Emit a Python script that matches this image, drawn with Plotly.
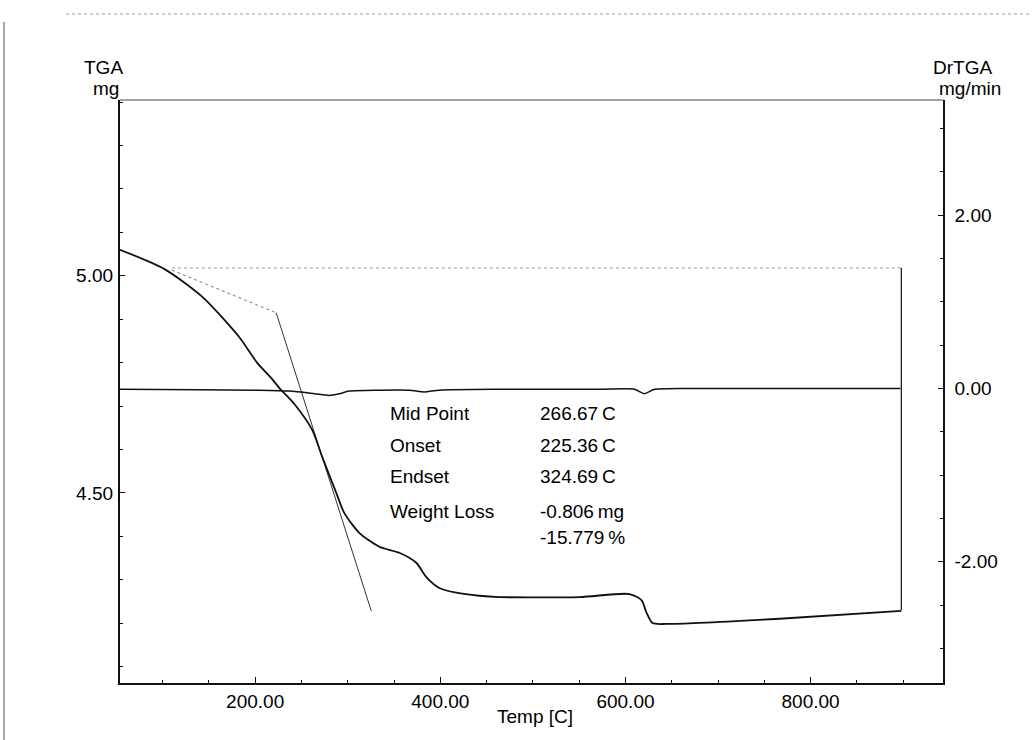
import plotly.graph_objects as go

# ---- data ----
temp_tga = [54, 101.6, 142.7, 182.7, 202, 218, 226, 243, 261.6, 272.4, 287.6, 296.2,
            312.4, 334, 355.7, 374, 384.9, 398.9, 417.3, 442, 463.8, 550.3, 604.3,
            617.3, 622.7, 629.2, 644.3, 766.5, 898]
mg_tga = [5.06, 5.016, 4.952, 4.859, 4.80, 4.763, 4.742, 4.703, 4.645, 4.583, 4.500, 4.454,
          4.408, 4.376, 4.362, 4.339, 4.306, 4.281, 4.270, 4.263, 4.260, 4.260, 4.267,
          4.253, 4.224, 4.200, 4.198, 4.210, 4.228]

temp_dr = [54, 139.5, 204, 237, 264, 280, 291, 301.6, 334, 366.5, 382.7, 399, 463.8,
           571.9, 609.7, 620.5, 631.4, 680, 788, 897]
dr_vals = [-0.01, -0.015, -0.02, -0.03, -0.06, -0.08, -0.06, -0.03, -0.02, -0.02, -0.04,
           -0.02, -0.01, -0.01, -0.01, -0.06, -0.01, 0.0, 0.0, 0.0]

# analysis construction lines
base_t = [110, 222.7]
base_mg = [5.013, 4.915]
tan_t = [222.7, 325.4]
tan_mg = [4.915, 4.228]
level_t = [110, 898]
level_mg = [5.018, 5.018]
end_t = [898, 898]
end_mg = [5.018, 4.230]

x_ticks = [200, 400, 600, 800]
x_ticktext = ["200.00", "400.00", "600.00", "800.00"]
y_ticks = [4.5, 5.0]
y_ticktext = ["4.50", "5.00"]
y2_ticks = [-2, 0, 2]
y2_ticktext = ["-2.00", "0.00", "2.00"]

labels = ["Mid Point", "Onset", "Endset", "Weight Loss", ""]
values = ["266.67\u2009C", "225.36\u2009C", "324.69\u2009C", "-0.806\u2009mg", "-15.779\u2009%"]

FONT = "Liberation Sans, Arial, sans-serif"
FS = 19

fig = go.Figure()

fig.add_trace(go.Scatter(x=level_t, y=level_mg, mode="lines",
                         line=dict(color="#9a9a9a", width=1, dash="dot"), hoverinfo="skip"))
fig.add_trace(go.Scatter(x=base_t, y=base_mg, mode="lines",
                         line=dict(color="#777777", width=1, dash="dot"), hoverinfo="skip"))
fig.add_trace(go.Scatter(x=tan_t, y=tan_mg, mode="lines",
                         line=dict(color="#333333", width=1), hoverinfo="skip"))
fig.add_trace(go.Scatter(x=end_t, y=end_mg, mode="lines",
                         line=dict(color="#222222", width=1.3), hoverinfo="skip"))
fig.add_trace(go.Scatter(x=temp_tga, y=mg_tga, mode="lines",
                         line=dict(color="#111111", width=1.8, shape="spline", smoothing=0.7),
                         name="TGA"))
fig.add_trace(go.Scatter(x=temp_dr, y=dr_vals, mode="lines", yaxis="y2",
                         line=dict(color="#111111", width=1.5, shape="spline", smoothing=0.7),
                         name="DrTGA"))

W, H = 1032, 740
L, R, T, B = 120, 89, 100, 57


def px(xp, yp):
    return (xp - L) / (W - L - R), 1 - (yp - T) / (H - T - B)


ys = [413, 445, 477, 511, 537]
for lab, val, yy in zip(labels, values, ys):
    if lab:
        X, Y = px(388, yy)
        fig.add_annotation(x=X, y=Y, xref="paper", yref="paper", text=lab,
                           showarrow=False, xanchor="left", yanchor="middle",
                           font=dict(family=FONT, size=FS, color="#000"))
    X, Y = px(538, yy)
    fig.add_annotation(x=X, y=Y, xref="paper", yref="paper", text=val,
                       showarrow=False, xanchor="left", yanchor="middle",
                       font=dict(family=FONT, size=FS, color="#000"))

for txt, xx, yy in [("TGA", 103, 68), ("mg", 106, 88), ("DrTGA", 962, 68),
                    ("mg/min", 970, 88), ("Temp [C]", 535, 716)]:
    X, Y = px(xx, yy)
    fig.add_annotation(x=X, y=Y, xref="paper", yref="paper", text=txt, showarrow=False,
                       xanchor="center", yanchor="middle",
                       font=dict(family=FONT, size=FS, color="#000"))

# scan page borders
fig.add_shape(type="line", xref="paper", yref="paper", x0=px(4, 0)[0], x1=px(4, 0)[0],
              y0=px(0, 22)[1], y1=px(0, 740)[1], line=dict(color="#555", width=1))
fig.add_shape(type="line", xref="paper", yref="paper", x0=px(66, 0)[0], x1=px(1032, 0)[0],
              y0=px(0, 14)[1], y1=px(0, 14)[1], line=dict(color="#999", width=1, dash="dot"))

axis_common = dict(ticks="inside", showgrid=False, zeroline=False, linecolor="#111",
                   tickcolor="#111", tickfont=dict(family=FONT, size=FS, color="#000"))

fig.update_layout(
    width=W, height=H,
    margin=dict(l=L, r=R, t=T, b=B),
    paper_bgcolor="white", plot_bgcolor="white",
    showlegend=False,
    xaxis=dict(range=[54, 943], tickvals=x_ticks, ticktext=x_ticktext, ticklen=6,
               linewidth=1.5, mirror=False, ticklabelstandoff=0,
               minor=dict(dtick=50, tick0=0, ticks="inside", ticklen=3, tickcolor="#111"),
               **axis_common),
    yaxis=dict(range=[4.062, 5.405], tickvals=y_ticks, ticktext=y_ticktext, ticklen=5,
               linewidth=2.2, ticklabelstandoff=1,
               minor=dict(dtick=0.1, tick0=0, ticks="inside", ticklen=3, tickcolor="#111"),
               **axis_common),
    yaxis2=dict(range=[-3.40, 3.33], tickvals=y2_ticks, ticktext=y2_ticktext, ticklen=5,
                overlaying="y", side="right", linewidth=1.5, ticklabelstandoff=6,
                minor=dict(dtick=0.5, tick0=0, ticks="inside", ticklen=3, tickcolor="#111"),
                **axis_common),
)

fig.add_shape(type="line", xref="paper", yref="paper", x0=0, x1=1, y0=1, y1=1,
              line=dict(color="#444", width=1))

fig.write_html("out.html")
